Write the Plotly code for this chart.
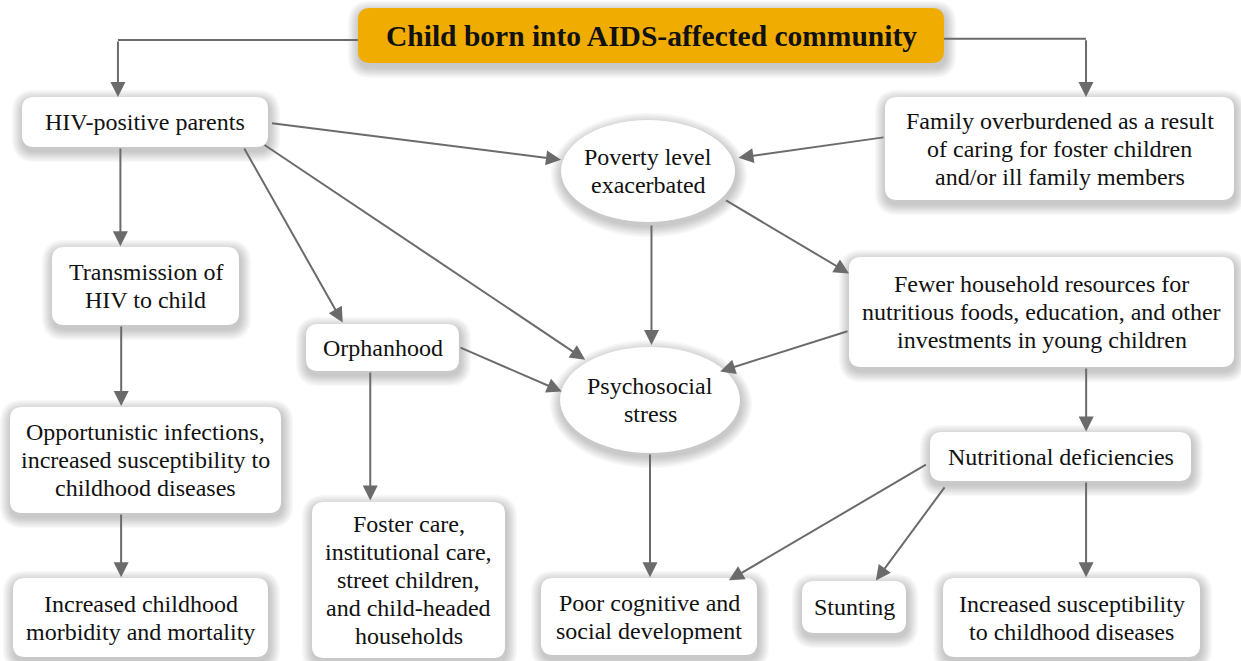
import plotly.graph_objects as go

# ---- nodes -------------------------------------------------------------
node_ids = ["title", "hiv", "family", "poverty", "trans", "orphan", "psycho",
            "fewer", "opp", "nutr", "foster", "morb", "poor", "stunt", "incr"]
node_labels = [
    "Child born into AIDS-affected community",
    "HIV-positive parents",
    "Family overburdened as a result<br>of caring for foster children<br>and/or ill family members",
    "Poverty level<br>exacerbated",
    "Transmission of<br>HIV to child",
    "Orphanhood",
    "Psychosocial<br>stress",
    "Fewer household resources for<br>nutritious foods, education, and other<br>investments in young children",
    "Opportunistic infections,<br>increased susceptibility to<br>childhood diseases",
    "Nutritional deficiencies",
    "Foster care,<br>institutional care,<br>street children,<br>and child-headed<br>households",
    "Increased childhood<br>morbidity and mortality",
    "Poor cognitive and<br>social development",
    "Stunting",
    "Increased susceptibility<br>to childhood diseases",
]
node_shape = ["rect", "rect", "rect", "ellipse", "rect", "rect", "ellipse", "rect",
              "rect", "rect", "rect", "rect", "rect", "rect", "rect"]

# layout (pixel canvas, y downwards)
node_x0 = [358, 22, 885, 561, 52, 306, 560, 849, 10, 930, 312, 13, 541, 802, 943]
node_x1 = [944, 268, 1234, 735, 239, 459, 740, 1234, 281, 1191, 505, 268, 757, 906, 1200]
node_y0 = [8, 97, 97, 120, 247, 324, 347, 257, 407, 432, 502, 578, 578, 581, 578]
node_y1 = [63, 147, 200, 222, 325, 371, 453, 367, 513, 481, 658, 657, 655, 633, 657]

# ---- edges: source, target, kind ------------------------------------------
edge_src = ["title", "title", "hiv", "hiv", "hiv", "hiv", "family", "poverty", "poverty",
            "fewer", "orphan", "orphan", "trans", "opp", "psycho", "fewer", "nutr", "nutr", "nutr"]
edge_dst = ["hiv", "family", "trans", "poverty", "orphan", "psycho", "poverty", "psycho", "fewer",
            "psycho", "psycho", "foster", "opp", "morb", "poor", "nutr", "poor", "stunt", "incr"]
edge_kind = ["elbow", "elbow", "down", "straight", "straight", "straight", "straight", "down",
             "straight", "straight", "straight", "down", "down", "down", "down", "down",
             "straight", "straight", "down"]
# anchor points as fractions of the node boxes
edge_sfx = [0.0, 1.0, 0.40, 1.01, 0.90, 0.98, 0.0, 0.52, 0.94, 0.0, 1.0, 0.42, 0.37, 0.41, 0.5, 0.616, -0.01, 0.06, 0.598]
edge_sfy = [0.58, 0.56, 1.0, 0.52, 1.0, 0.94, 0.39, 1.02, 0.78, 0.67, 0.49, 1.0, 1.0, 1.0, 1.0, 1.0, 0.65, 1.1, 1.0]
edge_dfx = [0.39, 0.576, 0.37, 0.0, 0.24, 0.14, 1.02, 0.5, 0.0, 0.89, 0.01, 0.30, 0.41, 0.42, 0.51, 0.598, 0.87, 0.71, 0.556]
edge_dfy = [0.0, 0.0, -0.01, 0.39, -0.03, 0.12, 0.37, -0.02, 0.15, 0.23, 0.42, -0.01, -0.01, -0.01, -0.01, -0.01, 0.03, -0.01, -0.01]

W, H = 1241, 661
LINE = "#6b6b6b"
AMBER = "#F0AC00"
FONT = "'Liberation Serif', 'Times New Roman', Times, serif"
LINE_GAP = 28

idx = {n: i for i, n in enumerate(node_ids)}


def pt(node, fx, fy):
    i = idx[node]
    return (node_x0[i] + fx * (node_x1[i] - node_x0[i]),
            node_y0[i] + fy * (node_y1[i] - node_y0[i]))


def rrect(x0, y0, x1, y1, r):
    return (f"M{x0+r},{y0} L{x1-r},{y0} Q{x1},{y0} {x1},{y0+r} L{x1},{y1-r} "
            f"Q{x1},{y1} {x1-r},{y1} L{x0+r},{y1} Q{x0},{y1} {x0},{y1-r} "
            f"L{x0},{y0+r} Q{x0},{y0} {x0+r},{y0} Z")


shapes = []
annotations = []

# shadows
for i, n in enumerate(node_ids):
    x0, x1, y0, y1 = node_x0[i], node_x1[i], node_y0[i], node_y1[i]
    for k in range(1, 9):
        g = k * 1.4
        dy = 4
        if node_shape[i] == "rect":
            shapes.append(dict(type="path", path=rrect(x0 - g + 1, y0 - g + dy, x1 + g + 1, y1 + g + dy, 12 + g),
                               fillcolor="rgba(0,0,0,0.027)", line=dict(width=0), layer="below"))
        else:
            shapes.append(dict(type="circle", x0=x0 - g + 1, x1=x1 + g + 1, y0=y0 - g + dy, y1=y1 + g + dy,
                               fillcolor="rgba(0,0,0,0.027)", line=dict(width=0), layer="below"))

# connectors
for s, d, kind, sfx, sfy, dfx, dfy in zip(edge_src, edge_dst, edge_kind, edge_sfx, edge_sfy, edge_dfx, edge_dfy):
    sx, sy = pt(s, sfx, sfy)
    dx, dy = pt(d, dfx, dfy)
    if kind == "elbow":
        shapes.append(dict(type="line", x0=sx, y0=sy, x1=dx, y1=sy, line=dict(color=LINE, width=2)))
        tail = (dx, sy)
    elif kind == "down":
        tail = (sx, sy)
        dx = sx
    else:
        tail = (sx, sy)
    annotations.append(dict(x=dx, y=dy, ax=tail[0], ay=tail[1], xref="x", yref="y", axref="x", ayref="y",
                            text="", showarrow=True, arrowhead=2, arrowsize=1.5, arrowwidth=2,
                            arrowcolor=LINE, standoff=0, startstandoff=0))

# node bodies and labels
for i, n in enumerate(node_ids):
    x0, x1, y0, y1 = node_x0[i], node_x1[i], node_y0[i], node_y1[i]
    fill = AMBER if n == "title" else "white"
    if node_shape[i] == "rect":
        shapes.append(dict(type="path", path=rrect(x0, y0, x1, y1, 12), fillcolor=fill,
                           line=dict(width=0), layer="above"))
    else:
        shapes.append(dict(type="circle", x0=x0, x1=x1, y0=y0, y1=y1, fillcolor=fill,
                           line=dict(width=0), layer="above"))
    is_title = n == "title"
    lines = node_labels[i].split("<br>")
    cx, cy = (x0 + x1) / 2, (y0 + y1) / 2
    for j, ln in enumerate(lines):
        yy = cy + (j - (len(lines) - 1) / 2) * LINE_GAP
        annotations.append(dict(x=cx, y=yy, xref="x", yref="y",
                                text=f"<b>{ln}</b>" if is_title else ln,
                                showarrow=False, xanchor="center", yanchor="middle", align="center",
                                font=dict(family=FONT, size=29.5 if is_title else 24, color="#111111")))

fig = go.Figure()
fig.update_layout(
    width=W, height=H, margin=dict(l=0, r=0, t=0, b=0),
    paper_bgcolor="white", plot_bgcolor="white",
    xaxis=dict(range=[0, W], visible=False, fixedrange=True),
    yaxis=dict(range=[H, 0], visible=False, fixedrange=True),
    shapes=shapes, annotations=annotations, showlegend=False,
)
fig.write_html("out.html", config={"displayModeBar": False},
               post_script="document.body.style.margin='0';")
